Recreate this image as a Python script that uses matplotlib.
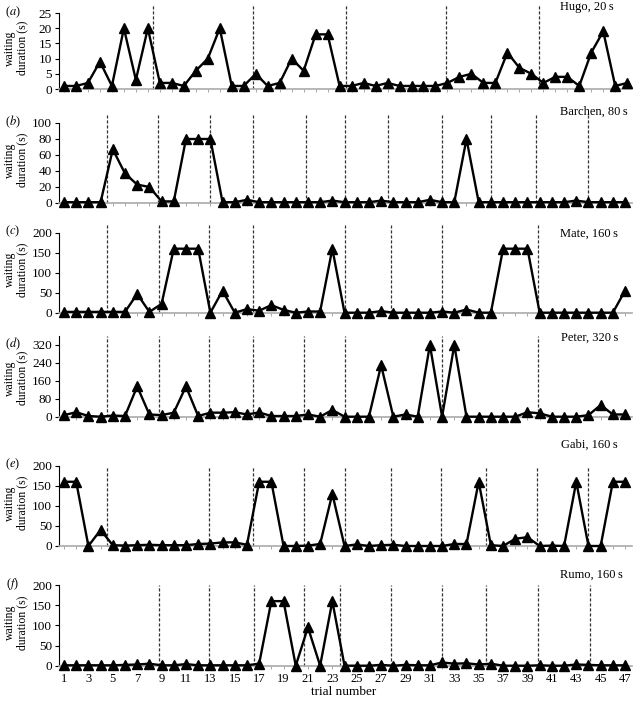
import matplotlib
matplotlib.use('Agg')
import matplotlib.pyplot as plt

plt.rcParams['font.family'] = ['Liberation Serif', 'DejaVu Serif']
plt.rcParams['mathtext.fontset'] = 'stix'

# waiting durations (s) per trial
hugo = [1, 1, 2, 9, 1, 20, 3, 20, 2, 2, 1, 6, 10, 20, 1, 1, 5, 1, 2, 10, 6, 18, 18,
        1, 1, 2, 1, 2, 1, 1, 1, 1, 2, 4, 5, 2, 2, 12, 7, 5, 2, 4, 4, 1, 12, 19, 1, 2]
barchen = [1, 1, 1, 1, 67, 37, 23, 20, 2, 2, 80, 80, 80, 1, 1, 4, 1, 1, 1, 1, 1, 1, 3,
           1, 1, 1, 3, 1, 1, 1, 4, 1, 1, 80, 1, 1, 1, 1, 1, 1, 1, 1, 3, 1, 1, 1, 1]
mate = [2, 2, 2, 2, 2, 2, 47, 2, 22, 160, 160, 160, 0, 55, 0, 9, 5, 19, 7, 0, 3, 3, 160,
        0, 0, 0, 4, 0, 0, 0, 0, 3, 0, 8, 0, 0, 160, 160, 160, 0, 0, 0, 0, 0, 0, 0, 55]
peter = [7, 20, 3, 0, 5, 3, 135, 10, 7, 18, 135, 3, 18, 18, 20, 10, 19, 3, 3, 3,
         10, 0, 30, 0, 0, 0, 230, 0, 10, 0, 320, 0, 320, 0, 0, 0, 0, 0, 20, 15, 0, 0,
         0, 7, 52, 10, 10]
gabi = [160, 160, 0, 40, 2, 1, 2, 3, 2, 2, 2, 5, 6, 9, 9, 3, 160, 160, 0, 0, 1, 5, 130,
        0, 4, 0, 2, 3, 0, 0, 0, 0, 5, 5, 160, 2, 0, 18, 22, 0, 1, 0, 160, 0, 0, 160, 160]
rumo = [1, 1, 1, 1, 1, 2, 3, 5, 1, 1, 4, 1, 1, 1, 1, 1, 5, 160, 160, 0, 95, 0, 160,
        0, 0, 0, 2, 0, 2, 1, 1, 8, 5, 6, 3, 5, 0, 0, 0, 1, 0, 0, 3, 2, 1, 1, 1]

# session boundaries (dashed lines), in trial units
lines_a = [8.4, 16.75, 24.5, 32.85, 40.6]
lines_b = [4.5, 8.7, 12.95, 16.5, 20.85, 24.0, 27.6, 32.0, 36.0, 39.7, 44.0]
lines_c = [4.55, 8.75, 12.9, 16.5, 24.0, 27.8, 32.0, 39.9]
lines_d = [4.55, 8.75, 12.9, 16.5, 20.7, 24.0, 32.0, 39.9]
lines_e = [4.55, 12.9, 16.5, 20.7, 24.0, 27.8, 31.9, 35.6, 39.8, 44.0]
lines_f = [8.75, 12.9, 16.6, 20.7, 23.6, 27.8, 32.0, 35.6, 39.9, 44.1]

names = ['Hugo, 20\u2009s', 'Barchen, 80\u2009s', 'Mate, 160\u2009s',
         'Peter, 320\u2009s', 'Gabi, 160\u2009s', 'Rumo, 160\u2009s']
letters = ['a', 'b', 'c', 'd', 'e', 'f']
yticks = [[0, 5, 10, 15, 20, 25], [0, 20, 40, 60, 80, 100], [0, 50, 100, 150, 200],
          [0, 80, 160, 240, 320], [0, 50, 100, 150, 200], [0, 50, 100, 150, 200]]
series = [hugo, barchen, mate, peter, gabi, rumo]
vlines = [lines_a, lines_b, lines_c, lines_d, lines_e, lines_f]

W, H = 638, 702
fig = plt.figure(figsize=(W / 100, H / 100), dpi=100)

# layout in pixels: baseline y, ylim top, axes height, spine top, name label pos
y0s = [89, 203, 312.7, 416.7, 546, 665.7]
ymaxs = [28, 110, 220, 360, 200, 200]
pxs = [85, 88, 88, 80.7, 80.3, 80.7]
spine_tops = [25, 100, 200, 360, 200, 200]
name_y = [7, 112, 234, 338, 445, 575]
name_x = [614, 628, 618, 618, 618, 623]

x_left, x_right = 59, 632

for i in range(6):
    y0 = y0s[i]
    ax = fig.add_axes([x_left / W, 1 - y0 / H, (x_right - x_left) / W, pxs[i] / H])
    vals = series[i]
    trials = list(range(1, len(vals) + 1))
    if len(vals) == 48:
        ax.set_xlim(0.585, 48.4)
    else:
        ax.set_xlim(0.59, 47.57)
    ax.set_ylim(0, ymaxs[i])

    for xv in vlines[i]:
        ax.plot([xv, xv], [0, ymaxs[i]], color='#333333', lw=0.9,
                ls=(0, (2.5, 1.5)), zorder=1, clip_on=False)
    ax.plot(trials, vals, color='black', lw=1.7, marker='^', ms=6.5,
            zorder=3, clip_on=False)

    for s in ['top', 'right']:
        ax.spines[s].set_visible(False)
    ax.spines['left'].set_bounds(0, spine_tops[i])
    ax.spines['left'].set_linewidth(0.8)
    ax.spines['bottom'].set_color('#aaaaaa')
    ax.spines['bottom'].set_linewidth(1.2)
    ax.set_yticks(yticks[i])
    ax.tick_params(axis='y', direction='out', length=3, width=0.8, pad=2,
                   labelsize=9.5)
    ax.set_xticks(range(1, 48))
    ax.tick_params(axis='x', direction='out', length=2, width=0.6,
                   color='#999999', labelsize=9)
    if i == 5:
        ax.set_xticklabels([str(t) if t % 2 == 1 else '' for t in range(1, 48)])
    else:
        ax.set_xticklabels([])

    top_px = y0 - (yticks[i][-1] / ymaxs[i]) * pxs[i]
    fig.text(13 / W, 1 - (top_px - 1) / H, '($%s$)' % letters[i], ha='center',
             va='center', fontsize=9)
    fig.text(16 / W, 1 - ((top_px + y0) / 2 - 3) / H, 'waiting\nduration (s)',
             rotation=90, ha='center', va='center', fontsize=8.5, linespacing=1.0)
    fig.text(name_x[i] / W, 1 - name_y[i] / H, names[i], ha='right', va='center',
             fontsize=9)

fig.text(344 / W, 1 - 692 / H, 'trial number', ha='center', va='center', fontsize=9.5)

fig.savefig('out.png', dpi=100)
